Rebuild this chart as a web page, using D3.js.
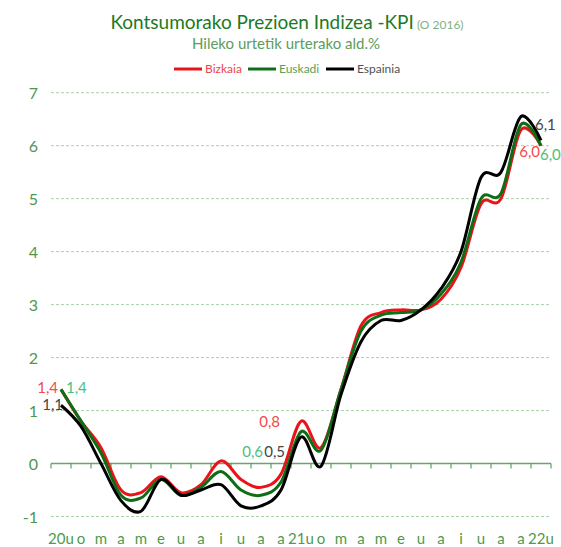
<!DOCTYPE html>
<html><head><meta charset="utf-8">
<script src="https://cdn.jsdelivr.net/npm/d3@7"></script>
<style>
html,body{margin:0;padding:0;background:#fff;}
svg text{font-family:Lato,"Open Sans",sans-serif;}
</style></head>
<body><svg id="c" width="561" height="547"></svg>
<script>
const months = ["20u","o","m","a","m","e","u","a","i","u","a","a","21u","o","m","a","m","e","u","a","i","u","a","a","22u"];
const bizkaia  = [1.4,0.8,0.3,-0.5,-0.55,-0.25,-0.55,-0.4,0.05,-0.3,-0.45,-0.2,0.8,0.3,1.4,2.6,2.85,2.9,2.9,3.1,3.7,4.9,5.0,6.3,6.0];
const euskadi  = [1.4,0.8,0.2,-0.6,-0.65,-0.3,-0.6,-0.45,-0.15,-0.5,-0.6,-0.35,0.6,0.25,1.4,2.5,2.8,2.85,2.9,3.2,3.8,5.0,5.1,6.4,6.0];
const espainia = [1.1,0.7,0.0,-0.7,-0.9,-0.3,-0.6,-0.5,-0.4,-0.8,-0.8,-0.5,0.5,-0.05,1.3,2.3,2.7,2.7,2.9,3.3,4.0,5.4,5.5,6.55,6.1];
const seriesNames = ["Bizkaia","Euskadi","Espainia"];
const yTicks = [-1,0,1,2,3,4,5,6,7];
const labelIdx = [0,12,24];

const svg = d3.select("#c");
const x = d3.scaleBand().domain(d3.range(months.length)).range([51,551]);
const cx = i => x(i) + x.bandwidth()/2;
const y = d3.scaleLinear().domain([-1,7]).range([516.5,92.7]);

// title
const t = svg.append("text").attr("x",287).attr("y",29).attr("text-anchor","middle");
t.append("tspan").text("Kontsumorako Prezioen Indizea -KPI").attr("font-size",19).attr("fill","#1b7a1e");
t.append("tspan").text(" (O 2016)").attr("font-size",12).attr("fill","#7fb27f");
svg.append("text").attr("x",286).attr("y",49).attr("text-anchor","middle")
  .attr("font-size",15).attr("fill","#5c9c5c").text("Hileko urtetik urterako ald.%");

// legend
const colors = {Bizkaia:"#e8141a",Euskadi:"#0e6e16",Espainia:"#000000"};
const textColors = {Bizkaia:"#e84848",Euskadi:"#5aa05a",Espainia:"#505050"};
const legX = [174,248,326];
seriesNames.forEach((n,k)=>{
  svg.append("line").attr("x1",legX[k]).attr("x2",legX[k]+28).attr("y1",69).attr("y2",69)
    .attr("stroke",colors[n]).attr("stroke-width",3);
  svg.append("text").attr("x",legX[k]+31).attr("y",73).attr("font-size",12)
    .attr("fill",textColors[n]).text(n);
});

// gridlines
svg.append("g").selectAll("line").data(yTicks.filter(v=>v!==0)).join("line")
  .attr("x1",51).attr("x2",551).attr("y1",d=>y(d)).attr("y2",d=>y(d))
  .attr("stroke","#a9d2a9").attr("stroke-width",1).attr("stroke-dasharray","3,2");

// y labels
svg.append("g").selectAll("text").data(yTicks).join("text")
  .attr("x",38).attr("y",d=>y(d)+6).attr("text-anchor","end")
  .attr("font-size",16).attr("fill","#4f964f").text(d=>d);

// zero axis with ticks
svg.append("line").attr("x1",51).attr("x2",551).attr("y1",y(0)).attr("y2",y(0))
  .attr("stroke","#6aa66a").attr("stroke-width",1.5);
svg.append("g").selectAll("line").data(d3.range(months.length+1)).join("line")
  .attr("x1",i=>i<months.length?x(i):x(months.length-1)+x.bandwidth())
  .attr("x2",i=>i<months.length?x(i):x(months.length-1)+x.bandwidth())
  .attr("y1",y(0)).attr("y2",y(0)+5).attr("stroke","#3f8f3f").attr("stroke-width",1);

// x labels
svg.append("g").selectAll("text").data(months).join("text")
  .attr("x",(d,i)=>cx(i)).attr("y",544).attr("text-anchor","middle")
  .attr("font-size",15).attr("fill","#4e9a4e").text(d=>d);

// lines
const data = {Bizkaia:bizkaia,Euskadi:euskadi,Espainia:espainia};
const line = d3.line().x((d,i)=>cx(i)).y(d=>y(d)).curve(d3.curveCardinal);
seriesNames.forEach(n=>{
  svg.append("path").attr("d",line(data[n])).attr("fill","none")
    .attr("stroke",colors[n]).attr("stroke-width",3).attr("stroke-linejoin","round");
});

// data labels
const lblColors = {Bizkaia:"#f04a4a",Euskadi:"#4cc07a",Espainia:"#444444"};
const offsets = {
  Bizkaia: {0:[-3,4,"end"],12:[-21,6,"end"],24:[-1,11,"end"]},
  Euskadi: {0:[5,4,"start"],12:[-38,25,"end"],24:[-1,14,"start"]},
  Espainia:{0:[2,5,"end"],12:[-16,20,"end"],24:[-6,-10,"start"]}
};
const fmt = v => d3.format(".1f")(v).replace(".",",");
seriesNames.forEach(n=>{
  labelIdx.forEach(i=>{
    const o = offsets[n][i];
    svg.append("text").attr("x",cx(i)+o[0]).attr("y",y(data[n][i])+o[1])
      .attr("text-anchor",o[2]).attr("font-size",15).attr("fill",lblColors[n])
      .text(fmt(data[n][i]));
  });
});
</script></body></html>
